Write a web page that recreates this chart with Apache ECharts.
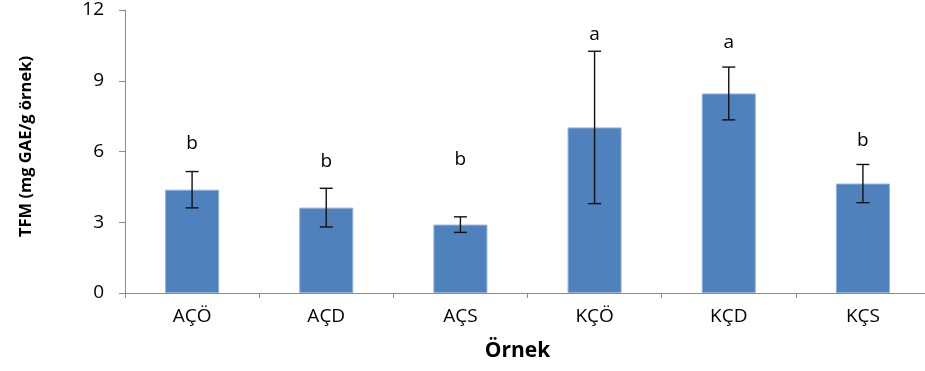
<!DOCTYPE html>
<html>
<head>
<meta charset="utf-8">
<script src="https://cdn.jsdelivr.net/npm/echarts@6/dist/echarts.min.js"></script>
<style>
  html, body { margin: 0; padding: 0; background: #fff; }
  #chart { width: 925px; height: 371px; }
</style>
</head>
<body>
<div id="chart"></div>
<script>
// Samples and measured total phenolic content (mean ± SD)
const categories = ['AÇÖ', 'AÇD', 'AÇS', 'KÇÖ', 'KÇD', 'KÇS'];
const means = [4.38, 3.62, 2.90, 7.02, 8.46, 4.64];
const sds = [0.77, 0.82, 0.33, 3.23, 1.12, 0.81];
// Significance letters and the height (in axis units) at which each is written
const letters = ['b', 'b', 'b', 'a', 'a', 'b'];
const letterHeights = [6.35, 5.59, 5.67, 10.94, 10.6, 6.48];
const yTicks = [0, 3, 6, 9, 12];

const FONT = 'Open Sans';
const chart = echarts.init(document.getElementById('chart'));

chart.setOption({
  animation: false,
  // plot area runs slightly past the right edge of the canvas
  grid: { left: 125, width: 805, top: 10, bottom: 78, outerBoundsMode: 'none', containLabel: false },
  xAxis: {
    type: 'category',
    data: categories,
    name: 'Örnek',
    nameLocation: 'middle',
    nameGap: 48,
    nameTextStyle: { fontFamily: FONT, fontWeight: 'bold', fontSize: 21, color: '#000', padding: [0, 20, 0, 0] },
    axisLine: { lineStyle: { color: '#8c8c8c', width: 1 } },
    axisTick: { show: true, length: 5, alignWithLabel: false, lineStyle: { color: '#8c8c8c' } },
    axisLabel: { fontFamily: FONT, fontSize: 19, color: '#000', margin: 14 }
  },
  yAxis: {
    type: 'value',
    min: yTicks[0],
    max: yTicks[yTicks.length - 1],
    interval: 3,
    name: 'TFM (mg GAE/g örnek)',
    nameLocation: 'middle',
    nameGap: 90,
    nameTextStyle: { fontFamily: FONT, fontWeight: 'bold', fontSize: 16.5, color: '#000', padding: [0, 0, 0, 10] },
    axisLine: { show: true, lineStyle: { color: '#8c8c8c', width: 1 } },
    axisTick: { show: true, length: 6, lineStyle: { color: '#8c8c8c' } },
    axisLabel: { fontFamily: FONT, fontSize: 19, color: '#000', margin: 21 },
    splitLine: { show: false }
  },
  series: [
    {
      type: 'bar',
      data: means,
      barWidth: 54,
      itemStyle: { color: '#4F81BD', borderColor: '#8fb0dc', borderWidth: 1 }
    },
    {
      // error bars: vertical whisker with caps
      type: 'custom',
      data: means.map((m, i) => [i, m - sds[i], m + sds[i]]),
      renderItem: function (params, api) {
        const lo = api.coord([api.value(0), api.value(1)]);
        const hi = api.coord([api.value(0), api.value(2)]);
        const half = 6.5;
        const style = { stroke: '#111', lineWidth: 1.4 };
        return {
          type: 'group',
          children: [
            { type: 'line', shape: { x1: hi[0], y1: hi[1], x2: lo[0], y2: lo[1] }, style },
            { type: 'line', shape: { x1: hi[0] - half, y1: hi[1], x2: hi[0] + half, y2: hi[1] }, style },
            { type: 'line', shape: { x1: lo[0] - half, y1: lo[1], x2: lo[0] + half, y2: lo[1] }, style }
          ]
        };
      },
      z: 5
    },
    {
      // significance letters
      type: 'custom',
      data: letterHeights.map((h, i) => [i, h]),
      renderItem: function (params, api) {
        const p = api.coord([api.value(0), api.value(1)]);
        return {
          type: 'text',
          style: {
            x: p[0], y: p[1],
            text: letters[params.dataIndex],
            fontFamily: FONT, fontSize: 19, fill: '#000',
            align: 'center', verticalAlign: 'middle'
          }
        };
      },
      z: 6
    }
  ]
});
</script>
</body>
</html>
